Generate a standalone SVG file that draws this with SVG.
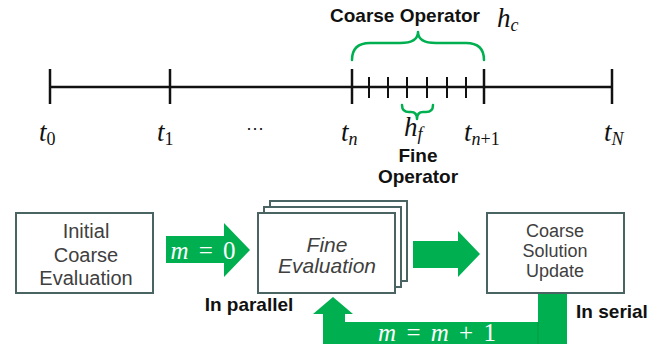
<svg xmlns="http://www.w3.org/2000/svg" width="667" height="351" viewBox="0 0 667 351">
<style>
.box{fill:#fff;stroke:#4a6464;stroke-width:2}
.btxt{font-family:"Liberation Sans",Arial,sans-serif;fill:#404040;text-anchor:middle}
.bold{font-family:"Liberation Sans",Arial,sans-serif;font-weight:bold;fill:#111;text-anchor:middle}
.math{font-family:"Liberation Serif","Times New Roman",serif;font-style:italic;fill:#111;font-size:27px}
.sub{font-size:18px}
.up{font-style:normal}
.tick{stroke:#111;stroke-width:2.5}
.minor{stroke:#111;stroke-width:2}
.brace{fill:none;stroke:#00b050;stroke-width:2.5;stroke-linejoin:round;stroke-linecap:round}
.arrow{fill:#00b050}
.wmath{font-family:"Liberation Serif","Times New Roman",serif;fill:#fff;font-size:25px}
</style>
<g id="timeline">
<line class="tick" x1="50" y1="87" x2="612" y2="87"/>
<line class="tick" x1="50" y1="69" x2="50" y2="104"/>
<line class="tick" x1="170" y1="69" x2="170" y2="104"/>
<line class="tick" x1="352" y1="69" x2="352" y2="104"/>
<line class="tick" x1="484" y1="69" x2="484" y2="104"/>
<line class="tick" x1="612" y1="69" x2="612" y2="104"/>
<line class="minor" x1="369" y1="77" x2="369" y2="98"/>
<line class="minor" x1="388" y1="77" x2="388" y2="98"/>
<line class="minor" x1="407" y1="77" x2="407" y2="98"/>
<line class="minor" x1="427" y1="77" x2="427" y2="98"/>
<line class="minor" x1="447" y1="77" x2="447" y2="98"/>
<line class="minor" x1="466" y1="77" x2="466" y2="98"/>
<text class="math" x="39" y="141">t<tspan class="sub up" dy="4">0</tspan></text>
<text class="math" x="157" y="141">t<tspan class="sub up" dy="4">1</tspan></text>
<text x="255" y="134" font-family="Liberation Sans,Arial,sans-serif" font-size="18" fill="#111" text-anchor="middle">···</text>
<text class="math" x="341" y="141">t<tspan class="sub" dy="4">n</tspan></text>
<text class="math" x="464" y="141">t<tspan class="sub" dy="4">n</tspan><tspan class="sub up">+1</tspan></text>
<text class="math" x="604" y="141">t<tspan class="sub" dy="4">N</tspan></text>
</g>
<g id="coarse-operator">
<path class="brace" d="M352,60 Q352,43 370,43 L400,43 Q418,43 418,32 Q418,43 436,43 L466,43 Q484,43 484,60"/>
<text class="bold" x="405" y="22" font-size="19">Coarse Operator</text>
<text class="math" x="497" y="27">h<tspan class="sub" dy="4">c</tspan></text>
</g>
<g id="fine-operator">
<path class="brace" d="M402,105 Q402,112 409,112 L411,112 Q417,112 417,119 Q417,112 423,112 L426,112 Q433,112 433,105"/>
<text class="math" x="404" y="136" font-size="24">h<tspan class="sub" font-size="16" dy="4">f</tspan></text>
<text class="bold" x="418" y="162" font-size="19">Fine</text>
<text class="bold" x="418" y="183" font-size="19">Operator</text>
</g>
<g id="initial">
<rect class="box" x="16" y="213" width="137" height="80"/>
<text class="btxt" x="86" y="238" font-size="20">Initial</text>
<text class="btxt" x="86" y="262" font-size="20">Coarse</text>
<text class="btxt" x="86" y="285" font-size="20">Evaluation</text>
</g>
<g id="fine">
<rect class="box" x="270" y="201" width="137" height="80"/>
<rect class="box" x="264" y="207" width="137" height="80"/>
<rect class="box" x="258" y="213" width="137" height="80"/>
<text class="btxt" x="327" y="252" font-size="21" font-style="italic">Fine</text>
<text class="btxt" x="327" y="273" font-size="21" font-style="italic">Evaluation</text>
<text class="bold" x="249" y="311" font-size="19">In parallel</text>
</g>
<g id="coarse-update">
<rect class="box" x="487" y="213" width="137" height="80"/>
<text class="btxt" x="555" y="237" font-size="18">Coarse</text>
<text class="btxt" x="555" y="257" font-size="18">Solution</text>
<text class="btxt" x="555" y="277" font-size="18">Update</text>
<text class="bold" x="612" y="318" font-size="19">In serial</text>
</g>
<g id="connectors">
<path class="arrow" d="M166,236 L224,236 L224,223 L250,250 L224,277 L224,263 L166,263 Z"/>
<text class="wmath" x="203" y="259" text-anchor="middle" word-spacing="4"><tspan font-style="italic">m</tspan> = 0</text>
<path class="arrow" d="M413,241 L458,241 L458,231 L480,254 L458,277 L458,268 L413,268 Z"/>
<path class="arrow" d="M333,297 L353,314 L345,314 L345,322 L538,322 L538,294 L567,294 L567,344 L323,344 L323,314 L313,314 Z"/>
<line x1="538" y1="322" x2="538" y2="344" stroke="#009a45" stroke-width="1"/>
<text class="wmath" x="437" y="341" text-anchor="middle" word-spacing="4"><tspan font-style="italic">m</tspan> = <tspan font-style="italic">m</tspan> + 1</text>
</g>
</svg>
